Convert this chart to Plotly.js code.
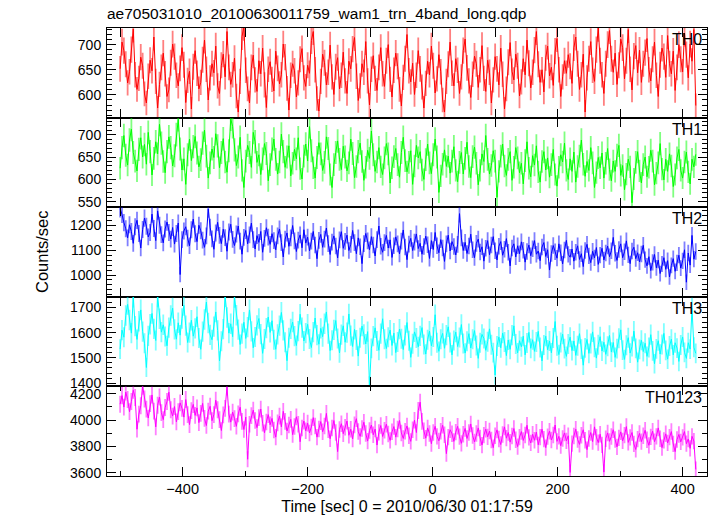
<!DOCTYPE html>
<html>
<head>
<meta charset="utf-8">
<script src="https://cdn.plot.ly/plotly-3.0.1.min.js"></script>
<style>
  html, body { margin: 0; padding: 0; background: #fff; }
  #chart { width: 717px; height: 516px; }
</style>
</head>
<body>
<div id="chart"></div>
<script>
// Time bins (sec, relative to 2010/06/30 01:17:59)
const tStart = -500;
const binSize = 3;

const bandNames = ["TH0", "TH1", "TH2", "TH3", "TH0123"];

// Count rates (counts/sec)
const th0 = [
  652, 705, 688, 661, 624, 646, 690, 731, 640, 611, 633, 675, 658, 602, 584, 637, 669, 648, 715, 627,
  574, 621, 655, 683, 642, 597, 610, 664, 701, 676, 639, 618, 653, 694, 660, 585, 629, 647, 572, 656,
  688, 643, 612, 625, 670, 709, 651, 590, 634, 662, 644, 697, 618, 603, 659, 681, 636, 726, 655, 621,
  640, 673, 598, 566, 627, 716, 735, 649, 612, 584, 655, 679, 630, 607, 668, 642, 693, 620, 575, 651,
  666, 631, 608, 687, 653, 622, 640, 701, 675, 613, 570, 639, 662, 648, 596, 624, 671, 692, 634, 617,
  659, 643, 708, 726, 650, 593, 568, 627, 681, 664, 620, 645, 699, 636, 601, 656, 674, 612, 639, 685,
  628, 603, 667, 652, 691, 714, 637, 589, 618, 662, 645, 706, 628, 580, 651, 678, 633, 609, 655, 694,
  642, 617, 668, 700, 631, 596, 649, 683, 657, 611, 578, 635, 672, 720, 648, 626, 663, 601, 639, 688,
  652, 616, 574, 623, 667, 640, 697, 658, 604, 632, 680, 646, 590, 566, 627, 661, 705, 643, 618, 672,
  649, 603, 636, 688, 711, 654, 628, 595, 641, 677, 662, 615, 650, 698, 633, 607, 669, 645, 584, 630,
  676, 652, 620, 693, 641, 572, 612, 665, 704, 647, 630, 681, 658, 598, 626, 672, 640, 709, 663, 614,
  645, 689, 726, 661, 625, 650, 606, 674, 697, 638, 655, 619, 687, 712, 650, 597, 636, 668, 643, 680,
  657, 623, 694, 715, 662, 611, 640, 681, 566, 634, 672, 706, 649, 627, 690, 733, 668, 640, 603, 662,
  700, 728, 672, 645, 683, 621, 659, 711, 694, 632, 668, 730, 651, 610, 677, 698, 644, 689, 625, 662,
  684, 712, 650, 628, 671, 705, 639, 597, 660, 693, 676, 635, 718, 662, 642, 687, 609, 655, 700, 671,
  646, 723, 680, 634, 701, 667, 730, 579
];
const th1 = [
  625, 671, 698, 654, 632, 688, 712, 660, 641, 619, 667, 693, 650, 678, 634, 705, 662, 610, 647, 684,
  657, 723, 681, 640, 615, 662, 695, 671, 630, 653, 700, 734, 668, 621, 646, 589, 655, 690, 642, 673,
  696, 659, 628, 644, 681, 710, 652, 603, 637, 668, 649, 702, 675, 626, 660, 691, 639, 616, 664, 735,
  718, 666, 631, 650, 694, 620, 582, 641, 676, 660, 627, 705, 684, 638, 655, 611, 646, 680, 658, 597,
  633, 668, 690, 645, 612, 639, 701, 662, 627, 650, 675, 608, 636, 667, 646, 693, 624, 601, 652, 679,
  641, 718, 664, 626, 603, 649, 682, 657, 620, 638, 695, 669, 611, 582, 633, 660, 686, 645, 622, 674,
  650, 619, 637, 690, 658, 604, 629, 662, 681, 640, 598, 627, 665, 647, 708, 655, 618, 639, 671, 628,
  611, 648, 680, 657, 592, 626, 651, 669, 633, 605, 660, 694, 642, 617, 638, 664, 589, 630, 676, 648,
  662, 621, 600, 644, 679, 637, 613, 655, 690, 650, 571, 608, 634, 666, 629, 652, 614, 641, 673, 620,
  595, 638, 660, 612, 647, 683, 629, 604, 651, 672, 636, 588, 620, 657, 640, 698, 645, 612, 631, 664,
  641, 560, 618, 652, 679, 630, 609, 645, 662, 598, 627, 671, 648, 615, 636, 590, 642, 684, 625, 606,
  653, 632, 675, 617, 594, 640, 662, 621, 648, 605, 633, 667, 611, 585, 627, 655, 639, 681, 620, 600,
  646, 618, 661, 594, 629, 652, 688, 634, 607, 640, 620, 671, 637, 582, 615, 649, 626, 659, 603, 636,
  669, 622, 597, 641, 618, 654, 676, 609, 631, 577, 612, 645, 628, 548, 601, 638, 662, 619, 592, 633,
  650, 606, 627, 665, 641, 588, 614, 637, 680, 623, 599, 645, 618, 657, 630, 584, 611, 648, 667, 620,
  603, 639, 661, 617, 590, 645, 628, 656
];
const th2 = [
  1268, 1245, 1212, 1187, 1150, 1203, 1176, 1128, 1195, 1221, 1168, 1109, 1184, 1230, 1197, 1154, 1172, 1246, 1188, 1139,
  1259, 1201, 1163, 1130, 1186, 1214, 1172, 1145, 1192, 1125, 1168, 1210, 1002, 1143, 1178, 1195, 1149, 1118, 1183, 1226,
  1167, 1135, 1201, 1179, 1141, 1112, 1158, 1267, 1193, 1146, 1104, 1170, 1213, 1160, 1127, 1185, 1151, 1096, 1174, 1205,
  1144, 1119, 1166, 1198, 1137, 1084, 1152, 1180, 1126, 1162, 1210, 1143, 1105, 1159, 1132, 1176, 1092, 1148, 1191, 1153,
  1124, 1167, 1139, 1102, 1158, 1186, 1131, 1073, 1145, 1170, 1116, 1150, 1200, 1138, 1095, 1141, 1162, 1110, 1183, 1129,
  1153, 1098, 1137, 1176, 1121, 1066, 1140, 1164, 1112, 1145, 1190, 1127, 1083, 1133, 1158, 1117, 1069, 1142, 1175, 1108,
  1136, 1161, 1099, 1124, 1180, 1131, 1086, 1150, 1114, 1046, 1127, 1168, 1138, 1102, 1155, 1121, 1077, 1143, 1198, 1116,
  1092, 1131, 1160, 1109, 1142, 1071, 1118, 1154, 1126, 1085, 1137, 1182, 1113, 1062, 1125, 1148, 1099, 1133, 1166, 1107,
  1128, 1084, 1115, 1157, 1122, 1067, 1139, 1103, 1172, 1118, 1090, 1143, 1109, 1055, 1126, 1161, 1097, 1135, 1115, 1081,
  1124, 1248, 1150, 1099, 1132, 1087, 1117, 1165, 1102, 1070, 1128, 1145, 1093, 1114, 1056, 1108, 1139, 1082, 1121, 1155,
  1098, 1061, 1116, 1135, 1080, 1104, 1147, 1092, 1037, 1109, 1126, 1073, 1118, 1086, 1134, 1100, 1052, 1095, 1121, 1078,
  1106, 1139, 1084, 1097, 1058, 1113, 1131, 1075, 1102, 1020, 1087, 1119, 1094, 1068, 1126, 1090, 1045, 1101, 1140, 1083,
  1072, 1105, 1056, 1092, 1118, 1063, 1086, 1034, 1099, 1124, 1077, 1050, 1096, 1069, 1111, 1043, 1080, 1108, 1061, 1089,
  1117, 1074, 1098, 1152, 1088, 1059, 1103, 1126, 1070, 1094, 1138, 1081, 1046, 1097, 1112, 1066, 1090, 1053, 1085, 1120,
  1062, 1037, 1074, 1018, 1051, 1083, 1029, 1060, 1006, 1045, 1070, 1023, 1058, 992, 1039, 1066, 1015, 1049, 1080, 1028,
  1057, 1102, 971, 1089, 1040, 1160, 1064, 1095
];
const th3 = [
  1535, 1610, 1582, 1668, 1712, 1650, 1598, 1741, 1626, 1573, 1645, 1690, 1604, 1558, 1462, 1587, 1633, 1676, 1615, 1569,
  1742, 1655, 1602, 1631, 1585, 1548, 1620, 1668, 1697, 1613, 1574, 1639, 1590, 1656, 1708, 1628, 1561, 1600, 1649, 1586,
  1617, 1663, 1579, 1534, 1604, 1652, 1721, 1638, 1591, 1572, 1624, 1682, 1609, 1488, 1566, 1614, 1743, 1660, 1598, 1635,
  1584, 1740, 1669, 1612, 1553, 1596, 1641, 1577, 1622, 1690, 1605, 1540, 1583, 1629, 1656, 1594, 1518, 1575, 1618, 1662,
  1601, 1647, 1572, 1534, 1593, 1628, 1680, 1609, 1562, 1489, 1580, 1615, 1642, 1586, 1549, 1606, 1673, 1620, 1567, 1598,
  1633, 1575, 1541, 1602, 1658, 1590, 1554, 1617, 1584, 1635, 1682, 1596, 1529, 1570, 1611, 1648, 1577, 1520, 1592, 1627,
  1562, 1600, 1674, 1588, 1545, 1613, 1571, 1507, 1580, 1626, 1593, 1555, 1604, 1390, 1538, 1586, 1619, 1567, 1530, 1596,
  1655, 1574, 1537, 1582, 1610, 1549, 1598, 1521, 1563, 1614, 1576, 1533, 1589, 1640, 1568, 1502, 1556, 1603, 1579, 1544,
  1587, 1620, 1553, 1515, 1572, 1606, 1548, 1583, 1671, 1560, 1526, 1574, 1597, 1538, 1590, 1623, 1561, 1512, 1569, 1602,
  1545, 1581, 1632, 1557, 1519, 1566, 1596, 1539, 1574, 1608, 1549, 1498, 1560, 1593, 1577, 1530, 1564, 1615, 1552, 1521,
  1432, 1547, 1583, 1540, 1598, 1563, 1509, 1571, 1534, 1590, 1627, 1555, 1520, 1568, 1544, 1586, 1512, 1559, 1601, 1538,
  1572, 1526, 1563, 1605, 1541, 1488, 1551, 1586, 1532, 1567, 1520, 1579, 1644, 1548, 1513, 1561, 1594, 1537, 1506, 1555,
  1582, 1529, 1567, 1510, 1548, 1596, 1535, 1471, 1540, 1573, 1518, 1557, 1603, 1542, 1499, 1552, 1584, 1527, 1562, 1514,
  1546, 1589, 1523, 1561, 1502, 1537, 1578, 1611, 1531, 1494, 1550, 1580, 1519, 1545, 1606, 1538, 1483, 1534, 1570, 1525,
  1558, 1506, 1541, 1592, 1528, 1477, 1536, 1568, 1515, 1553, 1597, 1530, 1495, 1547, 1574, 1512, 1560, 1539, 1486, 1551,
  1583, 1522, 1498, 1560, 1535, 1697, 1542, 1518
];
const th0123 = [
  4120, 4185, 4098, 4212, 4155, 4063, 4140, 4226, 4171, 3930, 4045, 4108, 4256, 4160, 4082, 4015, 4124, 4190, 4068, 3948,
  4112, 4174, 4056, 4003, 4095, 4140, 4211, 4078, 4030, 4102, 3986, 4064, 4130, 4088, 4022, 4155, 4040, 3965, 4071, 4118,
  4035, 4092, 3980, 4050, 4126, 4012, 3958, 4067, 4104, 3995, 4041, 4150, 4078, 4003, 3920, 4038, 4088, 4252, 4045, 3984,
  4060, 4011, 3952, 4046, 4097, 3990, 3928, 4022, 3702, 3968, 4034, 4075, 3996, 3942, 4018, 4083, 3975, 3903, 3985, 4041,
  3964, 4012, 3925, 3870, 3978, 4030, 3948, 4066, 3990, 3917, 3962, 4005, 3889, 3951, 4024, 3968, 3835, 3940, 3992, 3918,
  3976, 3902, 3947, 4018, 3955, 3870, 3932, 3988, 3911, 3954, 4050, 3926, 3858, 3940, 3996, 3905, 3760, 3928, 3972, 3896,
  3945, 3992, 3884, 3930, 3856, 3963, 4010, 3912, 3876, 3935, 3983, 3898, 3840, 3920, 3962, 3888, 3931, 3810, 3906, 3958,
  3875, 3923, 3968, 3894, 3845, 3910, 3950, 3870, 3932, 3996, 3902, 3860, 3915, 3955, 3880, 3838, 3926, 3998, 3905, 4072,
  4135, 3990, 3918, 3862, 3940, 3897, 3820, 3905, 3952, 3876, 3842, 3915, 3960, 3888, 3745, 3870, 3926, 3895, 3838, 3908,
  3952, 3874, 3823, 3892, 3936, 3860, 3905, 3970, 3882, 3834, 3898, 3940, 3864, 3810, 3885, 3930, 3872, 3916, 3848, 3790,
  3880, 3925, 3856, 3814, 3890, 3948, 3862, 3905, 3832, 3878, 3935, 3850, 3798, 3870, 3912, 3845, 3886, 3960, 3868, 3826,
  3892, 3846, 3908, 3812, 3870, 3930, 3855, 3790, 3874, 3915, 3848, 3886, 3962, 3838, 3876, 3805, 3860, 3902, 3842, 3880,
  3602, 3820, 3878, 3930, 3852, 3815, 3884, 3926, 3846, 3775, 3860, 3905, 3836, 3948, 3870, 3828, 3892, 3812, 3605, 3858,
  3902, 3838, 3875, 3926, 3852, 3796, 3864, 3910, 3842, 3885, 3950, 3830, 3868, 3905, 3818, 3776, 3855, 3898, 3836, 3880,
  3922, 3850, 3808, 3872, 3915, 3835, 3876, 3940, 3858, 3790, 3845, 3895, 3826, 3870, 3912, 3818, 3760, 3852, 3890, 3834,
  3868, 3912, 3820, 3856, 3785, 3876, 3840, 3625
];

const seriesValues = [th0, th1, th2, th3, th0123];
const lineColors = ["#ff0000", "#00ff00", "#0000ff", "#00ffff", "#ff00ff"];
const errColors = ["rgba(255,0,0,0.5)", "rgba(0,255,0,0.5)", "rgba(0,0,255,0.5)", "rgba(0,255,255,0.5)", "rgba(255,0,255,0.5)"];
const yRanges = [[555, 733], [538, 738], [912, 1274], [1387, 1742], [3575, 4255]];
const yMajor = [50, 50, 100, 100, 200];
const yMinor = [10, 10, 20, 20, 100];

const FONT = "Liberation Sans, Arial, Helvetica, sans-serif";

const traces = seriesValues.map((vals, k) => ({
  type: "scatter",
  mode: "lines",
  x: vals.map((_, i) => tStart + i * binSize),
  y: vals,
  xaxis: "x",
  yaxis: k === 0 ? "y" : "y" + (k + 1),
  line: { color: lineColors[k], width: 1 },
  error_y: { type: "sqrt", visible: true, color: errColors[k], thickness: 1.8, width: 0 },
  hoverinfo: "skip",
  showlegend: false
}));

const n = bandNames.length;
const layout = {
  width: 717,
  height: 516,
  margin: { l: 107, r: 10, t: 28, b: 40 },
  paper_bgcolor: "#ffffff",
  plot_bgcolor: "#ffffff",
  font: { family: FONT, size: 14, color: "#000" },
  showlegend: false,
  title: {
    text: "ae705031010_20100630011759_wam1_trn_4band_long.qdp",
    font: { family: FONT, size: 15.5, color: "#000" },
    xref: "paper", x: 0, xanchor: "left",
    yref: "container", y: 1 - 14 / 516, yanchor: "middle"
  },
  xaxis: {
    anchor: "y5",
    range: [-521, 439],
    tick0: 0, dtick: 200,
    ticks: "inside", ticklen: 9, tickwidth: 1, tickcolor: "#000",
    minor: { dtick: 100, ticks: "inside", ticklen: 5, tickwidth: 1, tickcolor: "#000" },
    showline: true, linecolor: "#000", linewidth: 1, mirror: "allticks",
    showgrid: false, zeroline: false,
    tickfont: { family: FONT, size: 14.5, color: "#000" },
    title: { text: "Time [sec] 0 = 2010/06/30 01:17:59", font: { family: FONT, size: 16, color: "#000" }, standoff: 4 }
  },
  annotations: [
    {
      text: "Counts/sec", textangle: -90,
      xref: "paper", yref: "paper",
      x: 0, xshift: -65, xanchor: "center",
      y: 0.5, yanchor: "middle",
      showarrow: false,
      font: { family: FONT, size: 16.5, color: "#000" }
    }
  ]
};

for (let k = 0; k < n; k++) {
  const name = k === 0 ? "yaxis" : "yaxis" + (k + 1);
  const top = 1 - k / n;
  const bottom = 1 - (k + 1) / n;
  layout[name] = {
    domain: [bottom, top],
    anchor: "x",
    range: yRanges[k],
    tick0: 0, dtick: yMajor[k],
    ticks: "inside", ticklen: 9, tickwidth: 1, tickcolor: "#000",
    minor: { dtick: yMinor[k], ticks: "inside", ticklen: 5, tickwidth: 1, tickcolor: "#000" },
    showline: true, linecolor: "#000", linewidth: 1, mirror: "allticks",
    showgrid: false, zeroline: false,
    tickfont: { family: FONT, size: 14, color: "#000" },
    ticklabelstandoff: 2
  };
  layout.annotations.push({
    text: bandNames[k],
    xref: "paper", yref: "paper",
    x: 1, xanchor: "right", xshift: -3,
    y: top, yanchor: "top", yshift: -1,
    showarrow: false,
    font: { family: FONT, size: 16, color: "#000" }
  });
}

Plotly.newPlot("chart", traces, layout, { staticPlot: true, displayModeBar: false });
</script>
</body>
</html>
